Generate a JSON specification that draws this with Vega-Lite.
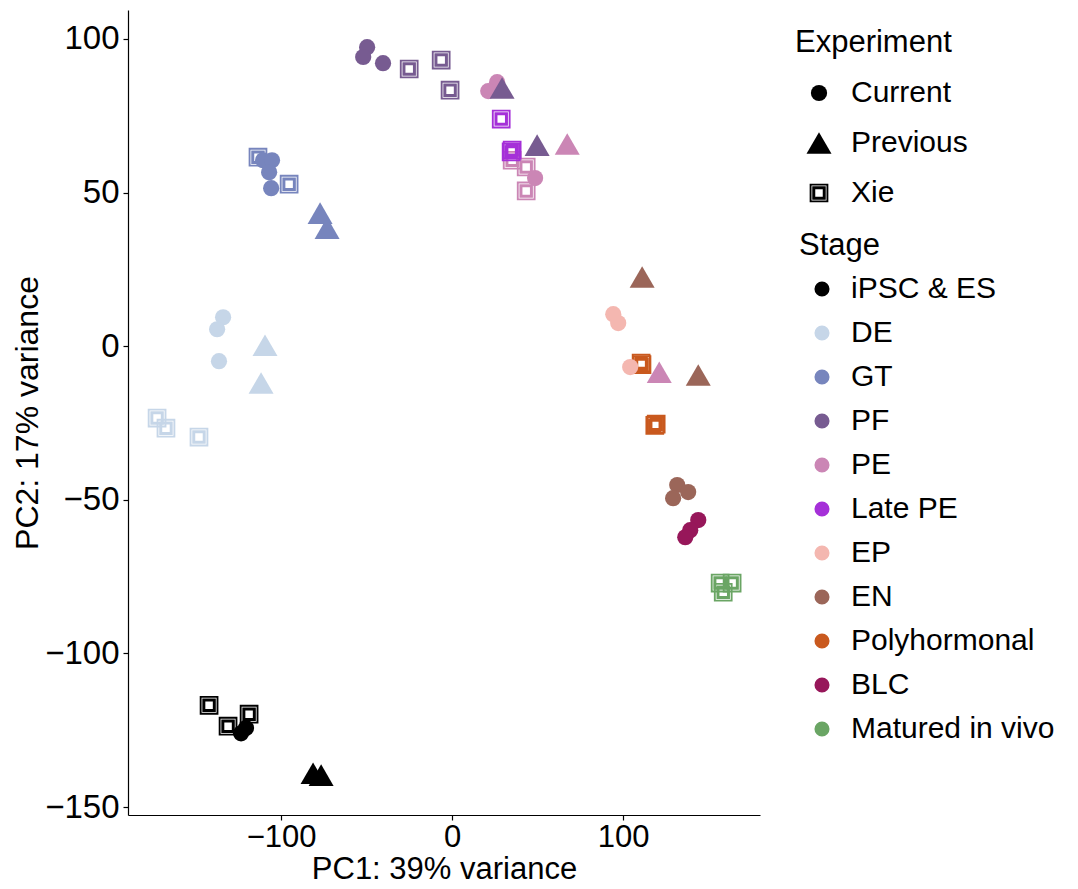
{
  "$schema": "https://vega.github.io/schema/vega-lite/v6.json",
  "autosize": "none",
  "width": 632,
  "height": 805,
  "padding": {"left": 128, "top": 10, "right": 318, "bottom": 74},
  "background": "white",
  "config": {
    "font": "Liberation Sans",
    "view": {"stroke": null},
    "axis": {"grid": false, "domainColor": "black", "domainWidth": 1.2, "tickColor": "black", "tickWidth": 1.2, "tickSize": 5, "labelColor": "black", "labelFontSize": 33, "labelFont": "Liberation Sans", "titleFont": "Liberation Sans", "titleFontSize": 32, "titleFontWeight": "normal", "titleColor": "black"},
    "legend": {"labelFont": "Liberation Sans", "titleFont": "Liberation Sans", "labelFontSize": 30, "titleFontSize": 31, "titleFontWeight": "normal", "labelColor": "black", "titleColor": "black", "padding": 0, "labelLimit": 400}
  },
  "data": {"values": [
    {"x": -142.1, "y": -116.9, "stage": "iPSC & ES", "exp": "Xie"},
    {"x": -131.0, "y": -123.7, "stage": "iPSC & ES", "exp": "Xie"},
    {"x": -118.7, "y": -119.8, "stage": "iPSC & ES", "exp": "Xie"},
    {"x": -172.5, "y": -23.4, "stage": "DE", "exp": "Xie"},
    {"x": -167.3, "y": -26.7, "stage": "DE", "exp": "Xie"},
    {"x": -148.0, "y": -29.6, "stage": "DE", "exp": "Xie"},
    {"x": -113.5, "y": 61.5, "stage": "GT", "exp": "Xie"},
    {"x": -95.3, "y": 52.7, "stage": "GT", "exp": "Xie"},
    {"x": -25.1, "y": 90.2, "stage": "PF", "exp": "Xie"},
    {"x": -6.4, "y": 93.1, "stage": "PF", "exp": "Xie"},
    {"x": -1.2, "y": 83.3, "stage": "PF", "exp": "Xie"},
    {"x": 35.1, "y": 60.5, "stage": "PE", "exp": "Xie"},
    {"x": 43.3, "y": 58.3, "stage": "PE", "exp": "Xie"},
    {"x": 43.3, "y": 50.5, "stage": "PE", "exp": "Xie"},
    {"x": 28.7, "y": 73.9, "stage": "Late PE", "exp": "Xie"},
    {"x": 35.1, "y": 63.8, "stage": "Late PE", "exp": "Xie"},
    {"x": 34.5, "y": 63.2, "stage": "Late PE", "exp": "Xie"},
    {"x": 110.5, "y": -5.5, "stage": "Polyhormonal", "exp": "Xie"},
    {"x": 111.0, "y": -6.0, "stage": "Polyhormonal", "exp": "Xie"},
    {"x": 119.3, "y": -25.4, "stage": "Polyhormonal", "exp": "Xie"},
    {"x": 118.5, "y": -25.8, "stage": "Polyhormonal", "exp": "Xie"},
    {"x": 156.7, "y": -77.1, "stage": "Matured in vivo", "exp": "Xie"},
    {"x": 163.7, "y": -77.1, "stage": "Matured in vivo", "exp": "Xie"},
    {"x": 158.5, "y": -80.1, "stage": "Matured in vivo", "exp": "Xie"},
    {"x": -123.4, "y": -126.0, "stage": "iPSC & ES", "exp": "Current"},
    {"x": -120.5, "y": -124.3, "stage": "iPSC & ES", "exp": "Current"},
    {"x": -133.9, "y": 9.4, "stage": "DE", "exp": "Current"},
    {"x": -137.4, "y": 5.5, "stage": "DE", "exp": "Current"},
    {"x": -136.3, "y": -4.9, "stage": "DE", "exp": "Current"},
    {"x": -110.5, "y": 60.5, "stage": "GT", "exp": "Current"},
    {"x": -105.3, "y": 60.5, "stage": "GT", "exp": "Current"},
    {"x": -107.0, "y": 56.6, "stage": "GT", "exp": "Current"},
    {"x": -105.8, "y": 51.4, "stage": "GT", "exp": "Current"},
    {"x": -49.7, "y": 97.3, "stage": "PF", "exp": "Current"},
    {"x": -52.0, "y": 94.1, "stage": "PF", "exp": "Current"},
    {"x": -40.4, "y": 92.1, "stage": "PF", "exp": "Current"},
    {"x": 26.3, "y": 85.9, "stage": "PE", "exp": "Current"},
    {"x": 21.1, "y": 83.0, "stage": "PE", "exp": "Current"},
    {"x": 48.5, "y": 54.7, "stage": "PE", "exp": "Current"},
    {"x": 94.2, "y": 10.4, "stage": "EP", "exp": "Current"},
    {"x": 97.1, "y": 7.5, "stage": "EP", "exp": "Current"},
    {"x": 104.1, "y": -6.8, "stage": "EP", "exp": "Current"},
    {"x": 131.6, "y": -45.2, "stage": "EN", "exp": "Current"},
    {"x": 138.0, "y": -47.5, "stage": "EN", "exp": "Current"},
    {"x": 129.2, "y": -49.5, "stage": "EN", "exp": "Current"},
    {"x": 143.9, "y": -56.6, "stage": "BLC", "exp": "Current"},
    {"x": 139.2, "y": -59.9, "stage": "BLC", "exp": "Current"},
    {"x": 136.3, "y": -62.2, "stage": "BLC", "exp": "Current"},
    {"x": -81.3, "y": -139.0, "stage": "iPSC & ES", "exp": "Previous"},
    {"x": -76.6, "y": -139.6, "stage": "iPSC & ES", "exp": "Previous"},
    {"x": -109.4, "y": 0.3, "stage": "DE", "exp": "Previous"},
    {"x": -111.7, "y": -12.0, "stage": "DE", "exp": "Previous"},
    {"x": -77.2, "y": 43.3, "stage": "GT", "exp": "Previous"},
    {"x": -73.1, "y": 38.4, "stage": "GT", "exp": "Previous"},
    {"x": 29.2, "y": 84.0, "stage": "PF", "exp": "Previous"},
    {"x": 49.7, "y": 65.4, "stage": "PF", "exp": "Previous"},
    {"x": 67.3, "y": 65.8, "stage": "PE", "exp": "Previous"},
    {"x": 121.1, "y": -8.5, "stage": "PE", "exp": "Previous"},
    {"x": 111.1, "y": 22.5, "stage": "EN", "exp": "Previous"},
    {"x": 143.9, "y": -9.4, "stage": "EN", "exp": "Previous"}
  ]},
  "mark": {"type": "point", "filled": true, "opacity": 1, "strokeWidth": 0},
  "encoding": {
    "x": {"field": "x", "type": "quantitative", "scale": {"domain": [-189.5, 180], "nice": false, "zero": false}, "axis": {"values": [-100, 0, 100], "title": "PC1: 39% variance", "labelFontSize": 31, "labelPadding": 2, "titleFontSize": 31, "titlePadding": 2}},
    "y": {"field": "y", "type": "quantitative", "scale": {"domain": [-152.6, 109.4], "nice": false, "zero": false}, "axis": {"values": [-150, -100, -50, 0, 50, 100], "title": "PC2: 17% variance", "labelPadding": 4, "titlePadding": 0}},
    "shape": {"field": "exp", "type": "nominal", "title": "Experiment",
      "scale": {"domain": ["Current", "Previous", "Xie"], "range": ["circle", "triangle-up", "M-1,-1L1,-1L1,1L-1,1Z M-0.8,-0.8L-0.8,0.8L0.8,0.8L0.8,-0.8Z M-0.72,-0.72L0.72,-0.72L0.72,0.72L-0.72,0.72Z M-0.4,-0.4L-0.4,0.4L0.4,0.4L0.4,-0.4Z"]},
      "legend": {"orient": "none", "legendX": 667, "legendY": 18, "symbolFillColor": "black", "symbolStrokeWidth": 0, "symbolOffset": 9, "labelOffset": 17, "titlePadding": 19, "rowPadding": 20}},
    "size": {"field": "exp", "type": "nominal", "title": "Experiment",
      "scale": {"type": "ordinal", "domain": ["Current", "Previous", "Xie"], "range": [263, 625, 350]}},
    "color": {"field": "stage", "type": "nominal", "title": "Stage",
      "scale": {"domain": ["iPSC & ES", "DE", "GT", "PF", "PE", "Late PE", "EP", "EN", "Polyhormonal", "BLC", "Matured in vivo"],
        "range": ["#000000", "#C6D6E8", "#7785BD", "#775B91", "#CB86B5", "#A530D8", "#F4B7B0", "#9B6659", "#C9591E", "#97175A", "#6AA564"]},
      "legend": {"orient": "none", "legendX": 671, "legendY": 221, "symbolType": "circle", "symbolSize": 227, "symbolStrokeWidth": 0, "symbolOffset": 8, "labelOffset": 14, "titlePadding": 12, "rowPadding": 14}}
  }
}
